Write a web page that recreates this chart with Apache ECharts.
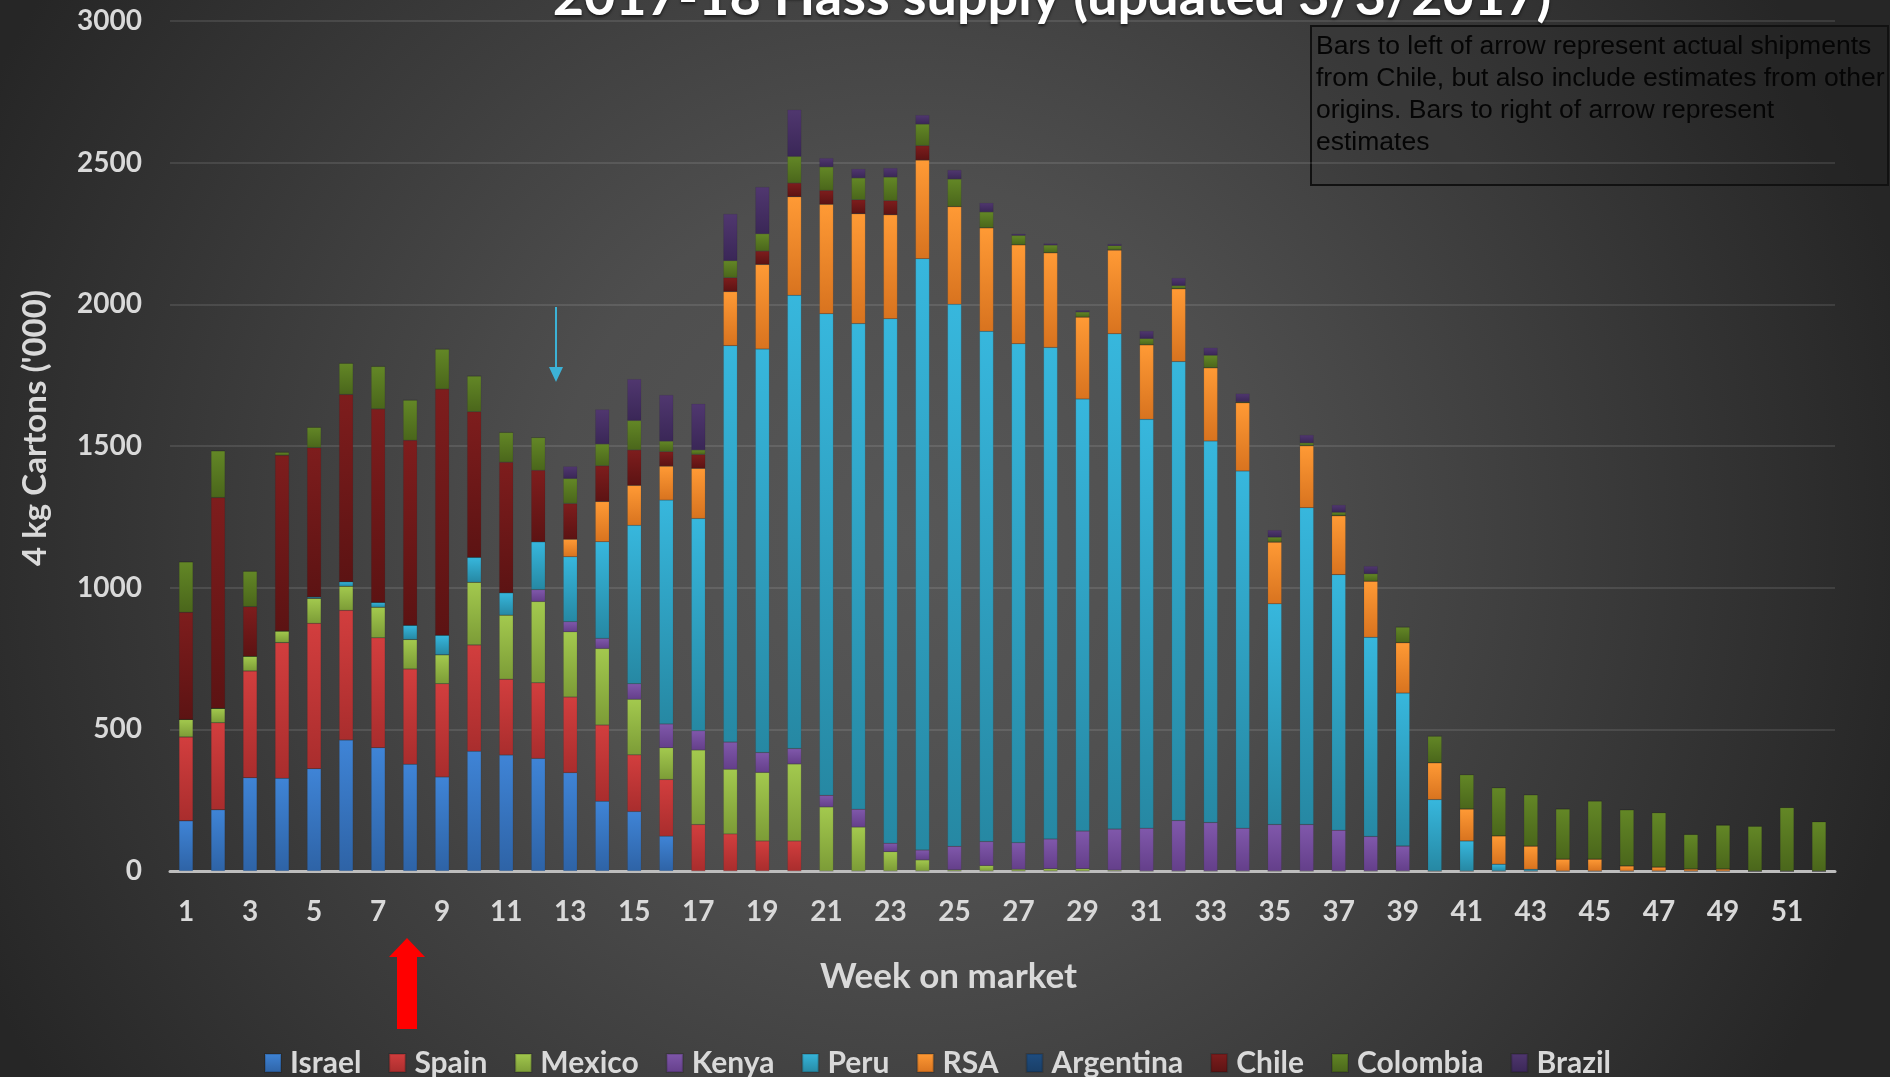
<!DOCTYPE html>
<html>
<head>
<meta charset="utf-8">
<script src="https://cdn.jsdelivr.net/npm/echarts@6/dist/echarts.min.js"></script>
<style>
html, body { margin: 0; padding: 0; background: #2a2a2a; }
#chart { width: 1890px; height: 1077px; }
</style>
</head>
<body>
<div id="chart"></div>
<script>
var weeks = [];
for (var w = 1; w <= 52; w++) weeks.push(String(w));

var israel = [177,216,329,327,361,462,435,377,332,423,409,397,347,246,210,123,0,0,0,0,0,0,0,0,0,0,0,0,0,0,0,0,0,0,0,0,0,0,0,0,0,0,0,0,0,0,0,0,0,0,0,0];
var spain = [296,307,377,479,513,458,388,336,329,375,268,267,267,269,200,200,164,131,106,106,0,0,0,0,0,0,0,0,0,0,0,0,0,0,0,0,0,0,0,0,0,0,0,0,0,0,0,0,0,0,0,0];
var mexico = [62,51,52,41,88,85,108,104,102,221,226,287,230,270,196,112,263,228,242,272,226,155,68,39,4,19,6,8,8,3,0,0,0,0,0,0,0,0,0,0,0,0,0,0,0,0,0,0,0,0,0,0];
var kenya = [0,0,0,0,0,0,0,0,0,0,0,42,36,36,55,84,68,96,70,54,41,63,30,35,83,85,94,105,133,145,151,178,171,151,164,164,144,122,88,0,0,0,0,0,0,0,0,0,0,0,0,0];
var peru = [0,0,0,0,5,16,17,50,69,88,79,169,229,341,559,790,749,1399,1424,1600,1700,1714,1851,2087,1913,1801,1761,1735,1525,1748,1443,1620,1347,1261,779,1118,902,703,540,252,106,24,6,0,0,0,0,0,0,0,0,0];
var rsa = [0,0,0,0,0,0,0,0,0,0,0,0,62,142,141,120,177,191,299,348,386,388,367,348,345,365,349,334,289,296,263,257,258,241,218,219,208,198,178,130,113,100,82,42,42,18,14,7,7,0,0,0];
var argentina = [0,0,0,0,0,0,0,0,0,0,0,0,0,0,0,0,0,0,0,0,0,0,0,0,0,0,0,0,0,0,0,0,0,0,0,0,0,0,0,0,0,0,0,0,0,0,0,0,0,0,0,0];
var chile = [378,744,175,620,527,661,683,653,869,514,461,252,126,126,125,51,49,49,47,48,49,49,50,51,0,0,0,0,0,0,0,0,0,0,0,0,0,0,0,0,0,0,0,0,0,0,0,0,0,0,0,0];
var colombia = [178,165,125,11,72,110,150,142,141,126,105,116,88,77,104,37,16,60,61,94,83,77,83,76,97,56,33,27,18,15,22,11,44,3,17,10,12,26,55,94,121,170,181,177,205,198,192,122,155,158,224,174];
var brazil = [0,0,0,0,0,0,0,0,0,0,0,0,43,122,146,163,163,165,165,165,31,32,32,32,32,32,6,6,6,6,27,27,27,29,25,28,26,27,0,0,0,0,0,0,0,0,0,0,0,0,0,0];

var seriesNames = ['Israel', 'Spain', 'Mexico', 'Kenya', 'Peru', 'RSA', 'Argentina', 'Chile', 'Colombia', 'Brazil'];
var seriesData = [israel, spain, mexico, kenya, peru, rsa, argentina, chile, colombia, brazil];
// top / bottom colour of each segment gradient
var colorTop = ['#3f84d6', '#d23e3e', '#a3c94e', '#8058ab', '#37b7dd', '#ff9a35', '#1f4d80', '#7e1d1d', '#638726', '#50376f'];
var colorBottom = ['#2e63a6', '#a92d2d', '#7c9c37', '#643f8a', '#2688a3', '#d8731f', '#193e66', '#5c1313', '#4a661b', '#3a2757'];

var txt = '#d9d9d9';
var font = 'Lato';

var myChart = echarts.init(document.getElementById('chart'));

var series = seriesNames.map(function (name, i) {
    return {
        name: name,
        type: 'bar',
        stack: 'supply',
        barWidth: 14,
        data: seriesData[i],
        itemStyle: {
            color: new echarts.graphic.LinearGradient(0, 0, 0, 1, [
                { offset: 0, color: colorTop[i] },
                { offset: 1, color: colorBottom[i] }
            ]),
            borderColor: 'rgba(0,0,0,0.15)',
            borderWidth: 0.5
        }
    };
});

var option = {
    backgroundColor: {
        type: 'radial', x: 0.48, y: 0.5, r: 0.95,
        colorStops: [
            { offset: 0, color: '#575757' },
            { offset: 0.35, color: '#4e4e4e' },
            { offset: 1, color: '#262626' }
        ]
    },
    animation: false,
    grid: { left: 170, right: 55, top: 21, bottom: 206 },
    legend: {
        left: 259,
        top: 1043,
        icon: 'rect',
        itemWidth: 16,
        itemHeight: 18,
        itemGap: 27,
        textStyle: { color: txt, fontFamily: font, fontWeight: 'bold', fontSize: 30, padding: [0, 0, 0, 4] },
        data: seriesNames
    },
    xAxis: {
        type: 'category',
        data: weeks,
        name: 'Week on market',
        nameLocation: 'middle',
        nameGap: 88,
        nameTextStyle: { color: txt, fontFamily: font, fontWeight: 'bold', fontSize: 35, padding: [0, 108, 0, 0] },
        axisTick: { show: false },
        axisLine: { lineStyle: { color: '#bdbdbd', width: 3 } },
        axisLabel: { interval: 1, color: txt, fontFamily: font, fontWeight: 'bold', fontSize: 28, margin: 27 }
    },
    yAxis: {
        type: 'value',
        min: 0,
        max: 3000,
        interval: 500,
        name: "4 kg Cartons ('000)",
        nameLocation: 'middle',
        nameRotate: 90,
        nameGap: 118,
        nameTextStyle: { color: txt, fontFamily: font, fontWeight: 'bold', fontSize: 33, padding: [0, 0, 0, 36] },
        axisLabel: {
            color: txt, fontFamily: font, fontWeight: 'bold', fontSize: 28, margin: 28,
            formatter: function (v) { return String(v); }
        },
        splitLine: { lineStyle: { color: 'rgba(255,255,255,0.1)', width: 2 } }
    },
    graphic: [
        {
            type: 'text',
            style: {
                text: '2017-18 Hass supply (updated 3/3/2017)',
                x: 1052, y: 25, align: 'center', verticalAlign: 'bottom',
                fill: '#ffffff', font: 'bold 54px Lato',
                textShadowColor: 'rgba(0,0,0,0.6)', textShadowBlur: 3, textShadowOffsetY: 2
            }
        },
        {
            type: 'rect',
            shape: { x: 1311, y: 26, width: 577, height: 159 },
            style: { fill: 'rgba(0,0,0,0.05)', stroke: '#111', lineWidth: 2 }
        },
        {
            type: 'text',
            style: {
                x: 1316, y: 31,
                text: 'Bars to left of arrow represent actual shipments\nfrom Chile, but also include estimates from other\norigins. Bars to right of arrow represent\nestimates',
                fill: '#050505', font: '26.5px "Liberation Sans"', lineHeight: 32
            }
        },
        // cyan arrow
        {
            type: 'line',
            shape: { x1: 556, y1: 307, x2: 556, y2: 370 },
            style: { stroke: '#3cb2d6', lineWidth: 2 }
        },
        {
            type: 'polygon',
            shape: { points: [[549, 367], [563, 367], [556, 382]] },
            style: { fill: '#3cb2d6' }
        },
        // red arrow
        {
            type: 'polygon',
            shape: { points: [[407, 938], [425, 957], [417, 957], [417, 1029], [397, 1029], [397, 957], [389, 957]] },
            style: { fill: '#ff0000' }
        }
    ],
    series: series
};
myChart.setOption(option);
</script>
</body>
</html>
